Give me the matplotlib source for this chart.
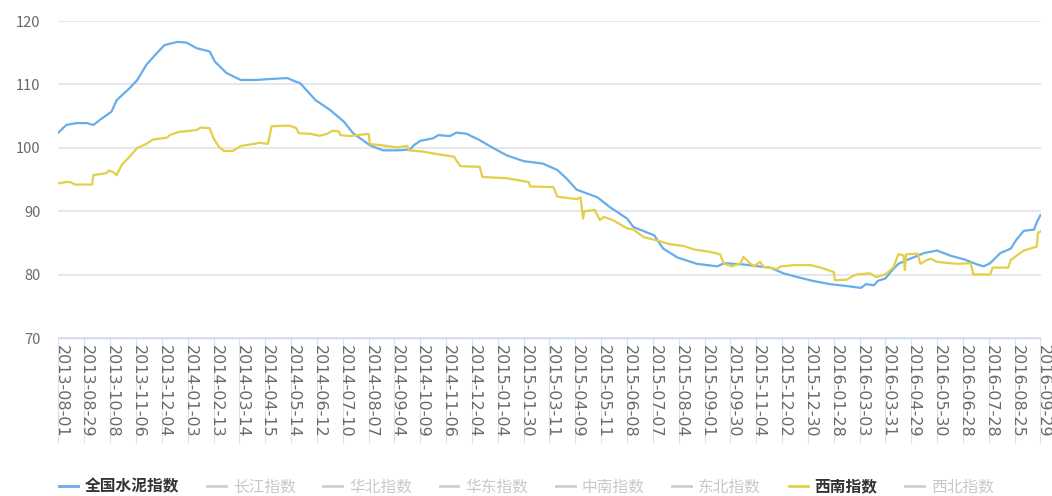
import matplotlib
matplotlib.use("Agg")
import matplotlib.pyplot as plt
from matplotlib.lines import Line2D
from matplotlib.transforms import ScaledTranslation

plt.rcParams['font.family'] = ['Noto Sans CJK SC', 'DejaVu Sans']

# category labels, one every 20 trading days (index 0 .. 760)
dates = ['2013-08-01', '2013-08-29', '2013-10-08', '2013-11-06', '2013-12-04',
         '2014-01-03', '2014-02-13', '2014-03-14', '2014-04-15', '2014-05-14',
         '2014-06-12', '2014-07-10', '2014-08-07', '2014-09-04', '2014-10-09',
         '2014-11-06', '2014-12-04', '2015-01-04', '2015-01-30', '2015-03-11',
         '2015-04-09', '2015-05-11', '2015-06-08', '2015-07-07', '2015-08-04',
         '2015-09-01', '2015-09-30', '2015-11-04', '2015-12-02', '2015-12-30',
         '2016-01-28', '2016-03-03', '2016-03-31', '2016-04-29', '2016-05-30',
         '2016-06-28', '2016-07-28', '2016-08-25', '2016-09-29']

# 全国水泥指数 (trading-day index, value)
national_idx = [0, 6, 14, 22, 27, 32, 41, 45, 55, 61, 68, 76, 82, 92, 99, 107, 117, 121,
                130, 141, 153, 164, 177, 184, 187, 199, 210, 221, 228, 241, 251, 262,
                272, 275, 280, 290, 294, 303, 308, 316, 326, 337, 347, 360, 375, 386,
                393, 401, 409, 417, 427, 440, 445, 461, 468, 479, 494, 510, 515, 530,
                546, 551, 561, 572, 584, 597, 610, 621, 625, 631, 634, 640, 644, 650,
                659, 670, 680, 690, 701, 711, 716, 721, 729, 737, 741, 747, 755, 757, 760]
national_val = [102.4, 103.6, 103.9, 103.9, 103.6, 104.4, 105.7, 107.5, 109.4, 110.7,
                113.1, 114.9, 116.2, 116.7, 116.6, 115.7, 115.2, 113.6, 111.8, 110.7,
                110.7, 110.85, 111.0, 110.4, 110.2, 107.5, 106.0, 104.1, 102.3, 100.4,
                99.6, 99.6, 99.7, 100.4, 101.1, 101.5, 102.0, 101.85, 102.4, 102.2,
                101.2, 99.9, 98.8, 97.9, 97.5, 96.5, 95.2, 93.4, 92.8, 92.2, 90.6,
                88.85, 87.5, 86.2, 84.1, 82.7, 81.7, 81.3, 81.8, 81.6, 81.2, 81.1,
                80.2, 79.6, 79.0, 78.5, 78.2, 77.9, 78.5, 78.3, 79.0, 79.4, 80.4, 81.7,
                82.5, 83.4, 83.8, 83.0, 82.4, 81.6, 81.3, 81.8, 83.4, 84.1, 85.4, 86.9,
                87.1, 88.2, 89.4]

# 西南指数 (trading-day index, value)
southwest_idx = [0, 6, 9, 13, 26, 27, 37, 39, 42, 45, 49, 55, 61, 68, 73, 84, 86, 93,
                 107, 110, 117, 120, 124, 128, 135, 141, 151, 156, 162, 165, 179, 184,
                 186, 195, 202, 208, 212, 217, 218, 226, 231, 240, 241, 254, 262, 270,
                 271, 282, 293, 306, 311, 326, 328, 347, 364, 365, 383, 386, 401, 404,
                 406, 407, 415, 419, 422, 429, 440, 445, 453, 463, 473, 484, 492, 504,
                 512, 515, 521, 528, 530, 534, 538, 543, 546, 556, 559, 570, 582, 590,
                 600, 601, 610, 617, 628, 633, 640, 646, 650, 654, 655, 656, 665, 667,
                 672, 675, 680, 695, 706, 708, 721, 723, 735, 737, 747, 757, 758, 760]
southwest_val = [94.4, 94.6, 94.6, 94.2, 94.2, 95.7, 96.0, 96.4, 96.2, 95.7, 97.3, 98.6,
                 100.0, 100.6, 101.3, 101.6, 102.0, 102.5, 102.8, 103.2, 103.1, 101.5,
                 100.2, 99.5, 99.5, 100.3, 100.6, 100.8, 100.6, 103.4, 103.5, 103.1,
                 102.3, 102.2, 101.9, 102.2, 102.7, 102.6, 102.0, 101.85, 102.0, 102.2,
                 100.6, 100.3, 100.06, 100.3, 99.6, 99.4, 99.0, 98.6, 97.1, 97.0, 95.4,
                 95.2, 94.6, 93.9, 93.8, 92.3, 91.9, 92.2, 88.85, 90.0, 90.2, 88.6, 89.1,
                 88.6, 87.3, 87.1, 85.9, 85.4, 84.8, 84.5, 83.95, 83.6, 83.2, 81.7, 81.3,
                 81.8, 82.8, 82.0, 81.3, 82.0, 81.2, 80.9, 81.3, 81.5, 81.5, 81.1, 80.4,
                 79.1, 79.2, 80.0, 80.2, 79.6, 80.05, 81.1, 83.2, 83.05, 80.7, 83.2,
                 83.3, 81.7, 82.3, 82.5, 82.0, 81.7, 81.8, 80.05, 80.0, 81.1, 81.1, 82.3,
                 83.8, 84.4, 86.6, 86.8]

legend_names = ['全国水泥指数', '长江指数', '华北指数', '华东指数',
                '中南指数', '东北指数', '西南指数', '西北指数']

blue = '#66adea'
yellow = '#e4cf48'
faded = '#cfcfcf'

fig = plt.figure(figsize=(10.52, 4.96), dpi=100)
ax = fig.add_axes([58.5 / 1052, 1 - 338 / 496, 982 / 1052, 317 / 496])

ax.plot(national_idx, national_val, color=blue, lw=1.6, zorder=3)
ax.plot(southwest_idx, southwest_val, color=yellow, lw=1.6, zorder=4)

ax.set_xlim(0, 760)
ax.set_ylim(70, 120)
ax.set_yticks([70, 80, 90, 100, 110, 120])
ax.grid(axis='y', color='#e2e2e8', lw=1.2, zorder=0)
ax.set_axisbelow(True)

for side in ('top', 'right', 'left'):
    ax.spines[side].set_visible(False)
ax.spines['bottom'].set_color('#c9daef')
ax.spines['bottom'].set_linewidth(1.0)

ax.tick_params(axis='y', length=0, pad=13, labelsize=10.5, labelcolor='#6c6864')
ax.set_xticks(range(0, 761, 20))
ax.set_xticklabels(dates, rotation=270, ha='center', fontsize=11.5,
                   color='#6a6a6a', family='DejaVu Sans')
ax.tick_params(axis='x', length=75.5, width=0.8, color='#d4e2f3',
               direction='out', pad=-70.5)
shift = ScaledTranslation(2.5 / 100, 0, fig.dpi_scale_trans)
for lab in ax.get_xticklabels():
    lab.set_transform(lab.get_transform() + shift)

# legend along the bottom, only two series are active
handles = []
for i, name in enumerate(legend_names):
    if i == 0:
        c = blue
    elif i == 6:
        c = yellow
    else:
        c = faded
    handles.append(Line2D([], [], color=c, lw=2.0))
leg = fig.legend(handles, legend_names, ncol=8, loc='center left',
                 bbox_to_anchor=(59 / 1052, 1 - 487 / 496), frameon=False,
                 borderpad=0, borderaxespad=0, fontsize=11.3,
                 handlelength=1.2, handletextpad=0.45, columnspacing=1.75)
for i, t in enumerate(leg.get_texts()):
    if i in (0, 6):
        t.set_color('#333333')
        t.set_fontweight('bold')
    else:
        t.set_color('#c8c8c8')

fig.savefig('out.png', dpi=100)
